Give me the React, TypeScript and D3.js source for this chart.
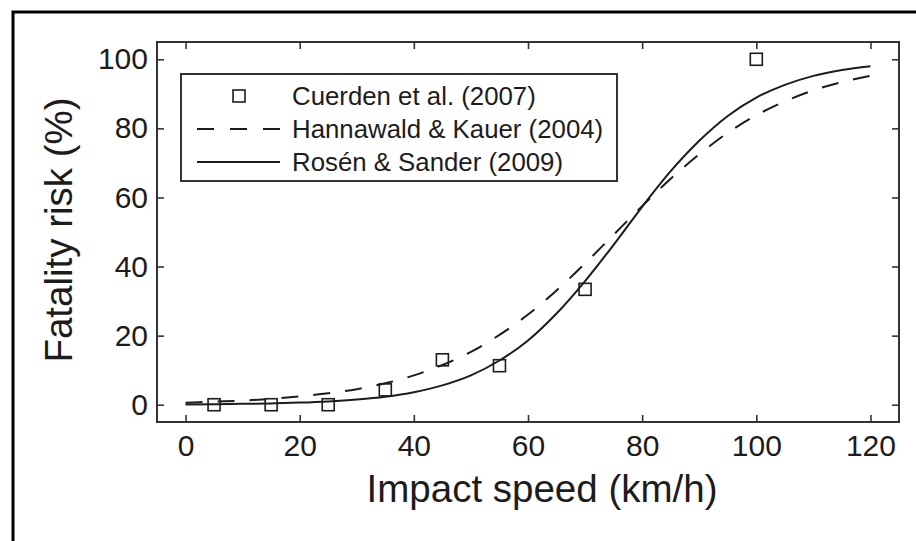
import * as d3 from "d3";
import {useRef, useEffect} from "react";

// Cuerden et al. (2007) observed points
const obsSpeed = [5, 15, 25, 35, 45, 55, 70, 100];
const obsRisk = [0, 0, 0, 4.3, 13, 11.3, 33.4, 100];

// curves every 5 km/h
const curveSpeed = [0, 5, 10, 15, 20, 25, 30, 35, 40, 45, 50, 55, 60, 65, 70, 75, 80, 85, 90, 95, 100, 105, 110, 115, 120];
const hannawaldRisk = [0.6, 0.9, 1.2, 1.7, 2.4, 3.3, 4.5, 6.2, 8.5, 11.5, 15.3, 20.2, 26.1, 33.1, 40.9, 49.2, 57.5, 65.4, 72.5, 78.7, 83.8, 87.8, 91, 93.4, 95.2];
const rosenRisk = [0.1, 0.16, 0.25, 0.39, 0.61, 0.96, 1.5, 2.3, 3.6, 5.6, 8.5, 12.8, 18.6, 26.4, 35.8, 46.3, 57.3, 67.6, 76.4, 83.6, 88.9, 92.6, 95.2, 96.9, 98];

const xTicks = [0, 20, 40, 60, 80, 100, 120];
const yTicks = [0, 20, 40, 60, 80, 100];
const legendLabels = ["Cuerden et al. (2007)", "Hannawald & Kauer (2004)", "Rosén & Sander (2009)"];

const font = "'Liberation Sans', Arial, Helvetica, sans-serif";
const ink = "#1c1c1c";
const dash = "17,15";

export default function App() {
  const width = 916, height = 541;
  const left = 157, right = 899, top = 42, bottom = 422;
  const x = d3.scaleLinear([-5, 125], [left, right]);
  const y = d3.scaleLinear([-5, 105], [bottom, top]);

  const gxb = useRef(null), gxt = useRef(null), gyl = useRef(null), gyr = useRef(null);

  useEffect(() => {
    const style = (g, hideText) => {
      g.select(".domain").remove();
      g.selectAll("line").attr("stroke", "#333").attr("stroke-width", 1.6);
      g.selectAll("text").attr("font-family", font).attr("font-size", 30).attr("fill", ink);
      if (hideText) g.selectAll("text").remove();
    };
    d3.select(gxb.current).call(d3.axisBottom(x).tickValues(xTicks).tickSize(-7).tickPadding(13)).call(g => style(g, false));
    d3.select(gxt.current).call(d3.axisTop(x).tickValues(xTicks).tickSize(-7)).call(g => style(g, true));
    d3.select(gyl.current).call(d3.axisLeft(y).tickValues(yTicks).tickSize(-7).tickPadding(9)).call(g => style(g, false));
    d3.select(gyr.current).call(d3.axisRight(y).tickValues(yTicks).tickSize(-7)).call(g => style(g, true));
  }, []);

  const line = d3.line<number>((d, i) => x(curveSpeed[i]), d => y(d)).curve(d3.curveMonotoneX);

  const lx = 181, ly = 74, lw = 436, lh = 107;
  const rows = [96, 129, 162];
  const sq = 12;

  return (
    <svg width={width} height={height} style={{position: "absolute", left: 0, top: 0, background: "#fff"}}>
      <path d={`M13,${height}V12H${width}`} fill="none" stroke="#000" strokeWidth={3} />
      <defs>
        <clipPath id="plot"><rect x={left} y={top} width={right - left} height={bottom - top} /></clipPath>
      </defs>
      <g clipPath="url(#plot)" fill="none" stroke={ink} strokeWidth={2}>
        <path d={line(hannawaldRisk)} strokeDasharray={dash} />
        <path d={line(rosenRisk)} />
        {obsSpeed.map((s, i) => (
          <rect key={i} x={x(s) - sq / 2} y={y(obsRisk[i]) - sq / 2} width={sq} height={sq} strokeWidth={1.6} />
        ))}
      </g>
      <g ref={gxb} transform={`translate(0,${bottom})`} />
      <g ref={gxt} transform={`translate(0,${top})`} />
      <g ref={gyl} transform={`translate(${left},0)`} />
      <g ref={gyr} transform={`translate(${right},0)`} />
      <rect x={left} y={top} width={right - left} height={bottom - top} fill="none" stroke="#333" strokeWidth={2} />

      <rect x={lx} y={ly} width={lw} height={lh} fill="#fff" stroke="#333" strokeWidth={2} />
      <rect x={239 - sq / 2} y={rows[0] - sq / 2} width={sq} height={sq} fill="none" stroke={ink} strokeWidth={1.6} />
      <line x1={197} x2={280} y1={rows[1]} y2={rows[1]} stroke={ink} strokeWidth={2} strokeDasharray="17,16" />
      <line x1={197} x2={280} y1={rows[2]} y2={rows[2]} stroke={ink} strokeWidth={2} />
      {legendLabels.map((t, i) => (
        <text key={t} x={292} y={rows[i]} dy="0.36em" fontFamily={font} fontSize={25.8} fill={ink}>{t}</text>
      ))}

      <text x={(left + right) / 2 + 14} y={502} textAnchor="middle" fontFamily={font} fontSize={38.5} fill={ink}>Impact speed (km/h)</text>
      <text transform="translate(72,230) rotate(-90)" textAnchor="middle" fontFamily={font} fontSize={38.5} fill={ink}>Fatality risk (%)</text>
    </svg>
  );
}
